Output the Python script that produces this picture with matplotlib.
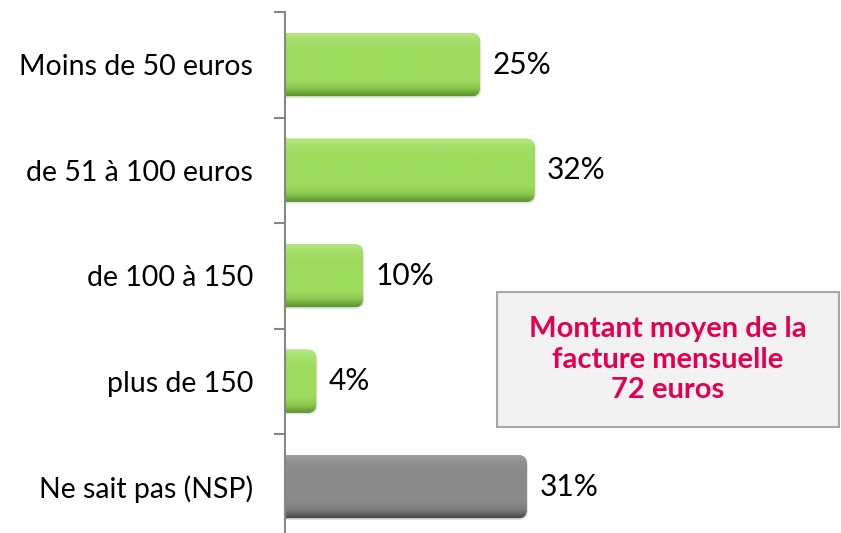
import numpy as np
import matplotlib.pyplot as plt
from matplotlib.patches import FancyBboxPatch, Rectangle
from matplotlib.colors import LinearSegmentedColormap

# données
categories = ['Moins de 50 euros', 'de 51 à 100 euros', 'de 100 à 150', 'plus de 150', 'Ne sait pas (NSP)']
valeurs = [25, 32, 10, 4, 31]
etiquettes = ['25%', '32%', '10%', '4%', '31%']
encadre = 'Montant moyen de la\nfacture mensuelle\n72 euros'

plt.rcParams['font.family'] = ['Lato', 'DejaVu Sans']

W, H = 841, 533
fig = plt.figure(figsize=(W / 100, H / 100), dpi=100)

# zone du graphique en pixels
x0, x1 = 285, 835
y_top, y_bot = 12, 539.5
ax = fig.add_axes([x0 / W, 1 - y_bot / H, (x1 - x0) / W, (y_bot - y_top) / H])

px_par_pct = 7.8
n = len(categories)
pos = np.arange(n)
bars = ax.barh(pos, valeurs, height=0.6, color='none')

# dégradés : reflet en haut, aplat, bord sombre en bas
vert = LinearSegmentedColormap.from_list('vert', [(0, '#b4e888'), (0.12, '#a6e06a'), (0.25, '#9ddb5d'),
                                                  (0.75, '#9ddb5d'), (0.88, '#8cc84e'), (1, '#5c9430')])
gris = LinearSegmentedColormap.from_list('gris', [(0, '#a2a2a2'), (0.12, '#919191'), (0.25, '#8a8a8a'),
                                                  (0.75, '#8a8a8a'), (0.88, '#7a7a7a'), (1, '#4c4c4c')])

px_y = (y_bot - y_top) / n  # pixels par unité y
aspect = (1 / px_y) / (1 / px_par_pct)
for i, b in enumerate(bars):
    x, y, w, h = b.get_x(), b.get_y(), b.get_width(), b.get_height()
    cmap = gris if i == n - 1 else vert
    # ombre
    ombre = FancyBboxPatch((x - 2, y + 0.015), w + 2 + 0.15, h,
                           boxstyle='round,pad=0,rounding_size=1.1',
                           mutation_aspect=aspect, fc='#d0d0d0', ec='none', alpha=0.6, zorder=1)
    ax.add_patch(ombre)
    p = FancyBboxPatch((x - 2, y), w + 2, h, boxstyle='round,pad=0,rounding_size=1.1',
                       mutation_aspect=aspect, fc=cmap(0.5), ec='none', zorder=2)
    ax.add_patch(p)
    grad = np.linspace(0, 1, 64).reshape(-1, 1)
    im = ax.imshow(grad, cmap=cmap, aspect='auto', extent=(x - 2, x + w, y + h, y),
                   interpolation='bicubic', zorder=3)
    im.set_clip_path(p)
    ax.text(x + w + 1.6, pos[i], etiquettes[i], va='center', ha='left',
            fontsize=21.5, color='black')

ax.set_xlim(0, (x1 - x0) / px_par_pct)
ax.set_ylim(n - 0.5, -0.5)

for s in ['top', 'right', 'bottom']:
    ax.spines[s].set_visible(False)
ax.spines['left'].set_color('#868686')
ax.spines['left'].set_linewidth(1.5)
ax.spines['left'].set_zorder(5)
ax.set_xticks([])
ax.set_yticks(np.arange(n + 1) - 0.5)
ax.set_yticklabels([])
ax.set_yticks(pos, minor=True)
ax.set_yticklabels(categories, minor=True, fontsize=20.5)
ax.tick_params(axis='y', which='major', length=8, width=1.5, color='#868686')
ax.tick_params(axis='y', which='minor', length=0, pad=23)

# encadré
bx0, bx1, by0, by1 = 497, 839, 292, 427
fig.patches.append(Rectangle((bx0 / W, 1 - by1 / H), (bx1 - bx0) / W, (by1 - by0) / H,
                             transform=fig.transFigure, fc='#f2f2f2', ec='#a6a6a6', lw=1.5, zorder=10))
fig.text((bx0 + bx1) / 2 / W, 1 - (by0 + by1) / 2 / H, encadre, ha='center', va='center',
         fontsize=21, fontweight='bold', color='#e2004f', linespacing=1.2, zorder=11)

fig.savefig('out.png', dpi=100)
